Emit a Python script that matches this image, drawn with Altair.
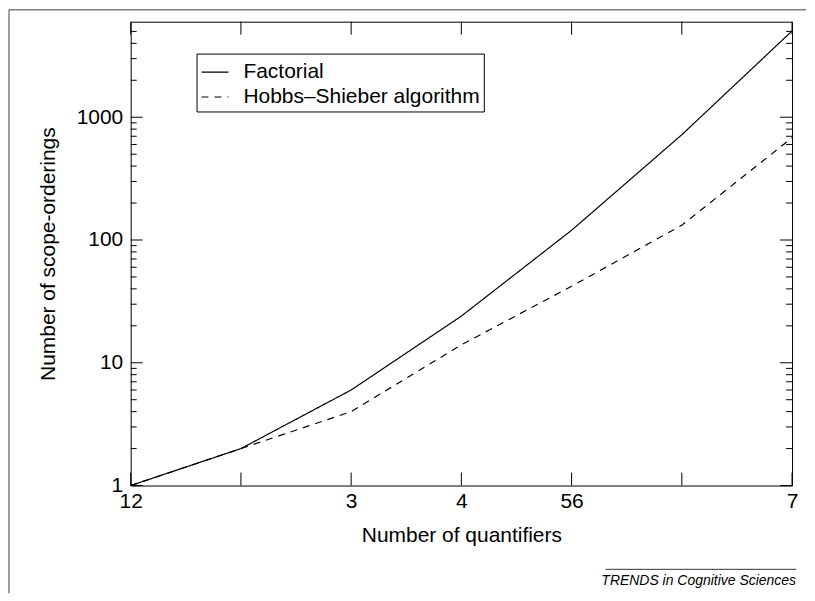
import altair as alt
import pandas as pd

# ---- data ----
n_quantifiers = [1, 2, 3, 4, 5, 6, 7]
factorial = [1, 2, 6, 24, 120, 720, 5040]
hobbs_shieber = [1, 2, 4, 14, 42, 132, 680]
series_names = ["Factorial", "Hobbs\u2013Shieber algorithm"]

x_tick_values = [1, 2, 3, 4, 5, 6, 7]
x_tick_labels = ["12", "", "3", "4", "56", "", "7"]
y_label_values = [1, 10, 100, 1000]
y_minor_values = [2, 3, 4, 5, 6, 7, 8, 9,
                  20, 30, 40, 50, 60, 70, 80, 90,
                  200, 300, 400, 500, 600, 700, 800, 900,
                  2000, 3000, 4000, 5000]
credit = "TRENDS in Cognitive Sciences"

FONT = "Liberation Sans"
W, H = 663, 465

df = pd.DataFrame({
    "n": n_quantifiers * 2,
    "count": factorial + hobbs_shieber,
    "series": [series_names[0]] * len(n_quantifiers) + [series_names[1]] * len(n_quantifiers),
})

label_expr = " : ".join(
    f"datum.value == {v} ? '{l}'" for v, l in zip(x_tick_values, x_tick_labels)
) + " : ''"

xscale = alt.Scale(domain=[1, 7], nice=False, zero=False)
yscale = alt.Scale(type="log", domain=[1, 6000], nice=False)

lines = alt.Chart(df).mark_line(color="black", strokeWidth=1.2).encode(
    x=alt.X("n:Q", scale=xscale,
            axis=alt.Axis(values=x_tick_values, labelExpr=label_expr, ticks=False, tickSize=0,
                          domain=False, grid=False, labelFontSize=21, labelPadding=5,
                          labelFlush=False, labelOverlap=False,
                          labelFont=FONT, labelColor="black",
                          title="Number of quantifiers", titleFont=FONT, titleFontSize=21,
                          titleFontWeight="normal", titleColor="black", titlePadding=13)),
    y=alt.Y("count:Q", scale=yscale,
            axis=alt.Axis(values=y_label_values, format="d", ticks=False, tickSize=0,
                          domain=False, grid=False, labelFontSize=21, labelPadding=8,
                          labelFlush=False, labelOverlap=False,
                          labelFont=FONT, labelColor="black",
                          title="Number of scope-orderings", titleFont=FONT, titleFontSize=21,
                          titleFontWeight="normal", titleColor="black", titlePadding=18)),
    strokeDash=alt.StrokeDash(
        "series:N",
        scale=alt.Scale(domain=series_names, range=[[1, 0], [7, 6]]),
        legend=alt.Legend(orient="none", legendX=66, legendY=32, title=None,
                          symbolType="stroke", symbolSize=729, symbolStrokeWidth=1.2,
                          symbolStrokeColor="black", labelFont=FONT, labelFontSize=21,
                          labelColor="black", labelOffset=14, labelLimit=500, padding=4,
                          strokeColor="black", rowPadding=0),
    ),
)

xt = pd.DataFrame({"n": x_tick_values})
ymaj = pd.DataFrame({"count": y_label_values})
ymin = pd.DataFrame({"count": y_minor_values})

tick_style = dict(color="black", strokeWidth=1)
bx = alt.Chart(xt).mark_rule(**tick_style).encode(x="n:Q", y=alt.value(H), y2=alt.value(H - 13))
tx = alt.Chart(xt).mark_rule(**tick_style).encode(x="n:Q", y=alt.value(0), y2=alt.value(13))
ly_maj = alt.Chart(ymaj).mark_rule(**tick_style).encode(y="count:Q", x=alt.value(0), x2=alt.value(12))
ry_maj = alt.Chart(ymaj).mark_rule(**tick_style).encode(y="count:Q", x=alt.value(W), x2=alt.value(W - 12))
ly_min = alt.Chart(ymin).mark_rule(**tick_style).encode(y="count:Q", x=alt.value(0), x2=alt.value(6))
ry_min = alt.Chart(ymin).mark_rule(**tick_style).encode(y="count:Q", x=alt.value(W), x2=alt.value(W - 6))

one = pd.DataFrame({"a": [0]})
frame_top = alt.Chart(one).mark_rule(color="#7f7f7f", strokeWidth=1.5).encode(
    x=alt.value(-122), x2=alt.value(677), y=alt.value(-12))
frame_left = alt.Chart(one).mark_rule(color="#7f7f7f", strokeWidth=1.5).encode(
    x=alt.value(-122), y=alt.value(-12), y2=alt.value(573))

credit_rule = alt.Chart(one).mark_rule(color="#333333", strokeWidth=1).encode(
    x=alt.value(476), x2=alt.value(667), y=alt.value(549))
credit_text = alt.Chart(one).mark_text(
    text=credit, align="right", baseline="middle", font=FONT, fontSize=14,
    fontStyle="italic", color="black").encode(x=alt.value(667), y=alt.value(561))

chart = alt.layer(
    lines, bx, tx, ly_maj, ry_maj, ly_min, ry_min,
    frame_top, frame_left, credit_rule, credit_text,
).properties(width=W, height=H, padding=0, background="white").configure_view(
    stroke="black", strokeWidth=1
)

chart.save("out.html", embed_options={"renderer": "svg", "actions": False})
